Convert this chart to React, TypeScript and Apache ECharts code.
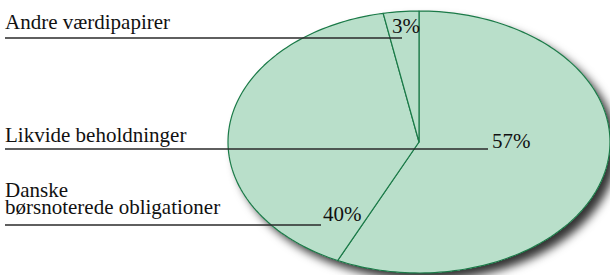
import { useEffect, useRef } from "react";
import * as echarts from "echarts";

// ---- data ----
const categories = [
  "Likvide beholdninger",
  "Danske\nbørsnoterede obligationer",
  "Andre værdipapirer",
];
const values = [57, 40, 3];

// ---- layout / style ----
const PIE = { cx: 419, cy: 142, rx: 191, ry: 131 };
const LAYOUT = [
  { lineY: 149, lineEndX: 488, nameBaseline: 142, pctX: 492, pctBaseline: 148 },
  { lineY: 225, lineEndX: 321, nameBaseline: 214, pctX: 323, pctBaseline: 221 },
  { lineY: 38, lineEndX: 402, nameBaseline: 29, pctX: 392, pctBaseline: 33 },
];
const FILL = "#b9dfca";
const EDGE = "#1b7a48";
const LEADER = "#2a2a2a";
const FAMILY = "Liberation Serif";
const FS = 21;
const LH = 17;

export default function App() {
  const ref = useRef<HTMLDivElement>(null);

  useEffect(() => {
    document.body.style.margin = "0";
    const chart = echarts.init(ref.current!, null, { renderer: "svg" });
    const total = values.reduce((a, b) => a + b, 0);
    const starts = values.map((_, i) =>
      values.slice(0, i).reduce((a, b) => a + b, 0)
    );

    const textStyle = (text: string, x: number, baseline: number) => ({
      text,
      x,
      y: baseline + 1.5,
      fontFamily: FAMILY,
      fontSize: FS,
      fill: "#111",
      align: "left",
      verticalAlign: "bottom",
      lineHeight: LH,
    });

    const slicePoints = (a0: number, a1: number) => {
      const pts: number[][] = [[PIE.cx, PIE.cy]];
      const steps = Math.max(2, Math.ceil(((a1 - a0) * 180) / Math.PI / 1.5));
      for (let s = 0; s <= steps; s++) {
        const a = a0 + ((a1 - a0) * s) / steps;
        pts.push([PIE.cx + PIE.rx * Math.cos(a), PIE.cy + PIE.ry * Math.sin(a)]);
      }
      return pts;
    };

    chart.setOption({
      animation: false,
      graphic: [
        {
          type: "ellipse",
          shape: { cx: PIE.cx, cy: PIE.cy, rx: PIE.rx, ry: PIE.ry },
          style: {
            fill: FILL,
            shadowBlur: 10,
            shadowOffsetX: 7,
            shadowOffsetY: 7,
            shadowColor: "rgba(0,0,0,0.8)",
          },
        },
      ],
      series: [
        {
          type: "custom",
          coordinateSystem: "none",
          data: values.map((v, i) => ({ name: categories[i], value: v })),
          renderItem: (params: any, api: any) => {
            const i = params.dataIndex;
            const v = api.value(0) as number;
            const a0 = -Math.PI / 2 + (2 * Math.PI * starts[i]) / total;
            const a1 = a0 + (2 * Math.PI * v) / total;
            const L = LAYOUT[i];
            return {
              type: "group",
              children: [
                {
                  type: "polygon",
                  z2: 1,
                  shape: { points: slicePoints(a0, a1) },
                  style: {
                    fill: FILL,
                    stroke: EDGE,
                    lineWidth: 1.2,
                    lineJoin: "round",
                  },
                },
                {
                  type: "line",
                  z2: 10,
                  shape: { x1: 5, y1: L.lineY, x2: L.lineEndX, y2: L.lineY },
                  style: { stroke: LEADER, lineWidth: 1.4 },
                },
                {
                  type: "text",
                  z2: 11,
                  style: textStyle(categories[i], 5, L.nameBaseline),
                },
                {
                  type: "text",
                  z2: 11,
                  style: textStyle(`${v}%`, L.pctX, L.pctBaseline),
                },
              ],
            };
          },
        },
      ],
    });

    return () => chart.dispose();
  }, []);

  return <div ref={ref} style={{ width: 610, height: 275 }} />;
}
